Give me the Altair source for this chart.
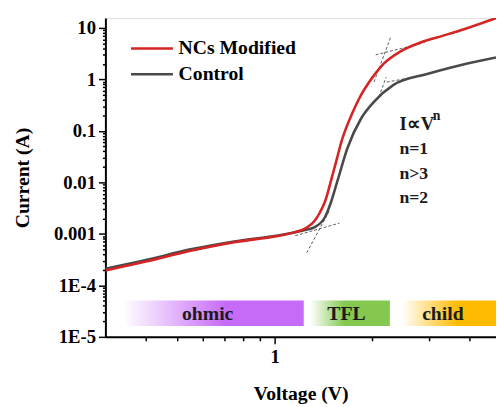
import altair as alt
import pandas as pd

# ---- data ----
series_names = ["NCs Modified", "Control"]
series_colors = ["#d42424", "#4a4a4a"]

volt_mod = [0.30, 0.40, 0.55, 0.75, 1.00, 1.15, 1.25, 1.33, 1.38, 1.43, 1.50, 1.56, 1.61, 1.73, 1.85, 1.95, 2.03, 2.17, 2.45, 2.82, 3.30, 3.72, 4.83]
curr_mod = [1.95e-4, 2.9e-4, 4.7e-4, 6.9e-4, 8.9e-4, 1.07e-3, 1.3e-3, 1.8e-3, 2.6e-3, 4.2e-3, 0.012, 0.03, 0.063, 0.207, 0.50, 0.85, 1.21, 2.0, 3.5, 5.2, 7.0, 8.8, 15.5]

volt_ctl = [0.30, 0.40, 0.55, 0.75, 1.00, 1.15, 1.25, 1.33, 1.43, 1.50, 1.565, 1.68, 1.85, 2.03, 2.33, 2.94, 3.72, 4.83]
curr_ctl = [2.1e-4, 3.1e-4, 5.0e-4, 7.1e-4, 9.1e-4, 1.06e-3, 1.2e-3, 1.35e-3, 2.1e-3, 4.5e-3, 0.0109, 0.047, 0.174, 0.37, 0.78, 1.26, 1.87, 2.67]

# legend entries (placed in data space, top-left of the plot)
legend_line_x1 = [0.36, 0.36]
legend_line_x2 = [0.485, 0.485]
legend_text_x = [0.505, 0.505]
legend_y = [3.97, 1.263]

# tangent (fit) guide segments: id, V, I
fit_id = [1, 1, 2, 2, 3, 3, 4, 4, 5, 5, 6, 6]
fit_v = [1.257, 1.480, 1.158, 1.587, 2.028, 2.279, 2.052, 2.911, 2.10, 2.21, 2.221, 2.877]
fit_i = [4.31e-4, 2.9e-3, 9.2e-4, 1.62e-3, 0.887, 6.44, 3.0, 5.17, 0.459, 1.106, 0.887, 1.19]

# regime bands
band_names = ["ohmic", "TFL", "child"]
band_x1 = [0.34, 1.287, 2.47]
band_x2 = [1.23, 2.27, 4.83]
band_y1 = [1.62e-5, 1.62e-5, 1.62e-5]
band_y2 = [5.06e-5, 5.06e-5, 5.06e-5]
band_colors = ["#c76af7", "#84c850", "#ffbb00"]
band_full_at = [0.57, 0.43, 0.60]
band_label_x = [0.621, 1.667, 3.31]
band_label_y = [2.79e-5, 2.79e-5, 2.79e-5]

# annotation text
note_text = ["I\u221dV", "n", "n=1", "n>3", "n=2"]
note_x = [2.43, 3.08, 2.43, 2.43, 2.43]
note_y = [0.134, 0.19, 0.0445, 0.0148, 0.00492]
note_size = [19, 14, 18, 18, 18]

# axes
x_domain = [0.3, 4.83]
y_domain = [1e-5, 15.5]
x_major = [1]
x_major_labels = ["1"]
x_minor = [0.4, 0.5, 0.6, 0.7, 0.8, 0.9, 2, 3, 4]
y_major = [1e-5, 1e-4, 0.001, 0.01, 0.1, 1, 10]
y_major_labels = ["1E-5", "1E-4", "0.001", "0.01", "0.1", "1", "10"]
y_minor = [m * d for d in y_major for m in range(2, 10) if m * d <= 15.5]

FONT = "Times New Roman, Liberation Serif, serif"

df_curves = pd.concat([
    pd.DataFrame({"V": volt_ctl, "I": curr_ctl, "series": "Control", "o": range(len(volt_ctl))}),
    pd.DataFrame({"V": volt_mod, "I": curr_mod, "series": "NCs Modified", "o": range(len(volt_mod))}),
])
df_legend = pd.DataFrame({"series": series_names, "x1": legend_line_x1, "x2": legend_line_x2,
                          "tx": legend_text_x, "y": legend_y})
df_fit = pd.DataFrame({"id": fit_id, "V": fit_v, "I": fit_i})
df_bands = pd.DataFrame({"name": band_names, "x1": band_x1, "x2": band_x2, "y1": band_y1, "y2": band_y2,
                         "lx": band_label_x, "ly": band_label_y})
df_notes = pd.DataFrame({"t": note_text, "V": note_x, "I": note_y, "s": note_size})


def label_expr(vals, labels):
    e = "''"
    for v, l in zip(vals, labels):
        e = f"datum.value == {v} ? '{l}' : ({e})"
    return e


def major_test(vals):
    return "indexof([" + ",".join(str(v) for v in vals) + "], datum.value) >= 0"


xscale = alt.Scale(type="log", domain=x_domain, nice=False)
yscale = alt.Scale(type="log", domain=y_domain, nice=False)

x_axis = alt.Axis(
    values=x_major + x_minor, labelExpr=label_expr(x_major, x_major_labels),
    title="Voltage (V)", titleFont=FONT, titleFontSize=20, titleFontWeight="bold", titleColor="black",
    titlePadding=18, labelFont=FONT, labelFontSize=19, labelFontWeight="bold", labelColor="black",
    labelPadding=4, domainColor="black", domainWidth=2, tickColor="black", tickWidth=1.5,
    tickSize={"condition": {"test": major_test(x_major), "value": 7}, "value": 4},
    grid=False, labelFlush=False, labelOverlap=False,
)
y_axis = alt.Axis(
    values=y_major + y_minor, labelExpr=label_expr(y_major, y_major_labels),
    title="Current (A)", titleFont=FONT, titleFontSize=20, titleFontWeight="bold", titleColor="black",
    titlePadding=21, labelFont=FONT, labelFontSize=19, labelFontWeight="bold", labelColor="black",
    labelPadding=3, domainColor="black", domainWidth=2, tickColor="black", tickWidth=1.5,
    tickSize={"condition": {"test": major_test(y_major), "value": 7}, "value": 3},
    grid=False, labelFlush=False, labelOverlap=False,
)

color_scale = alt.Scale(domain=series_names, range=series_colors)

layers = []
for i, name in enumerate(band_names):
    grad = alt.Gradient(
        gradient="linear", x1=0, x2=1, y1=0, y2=0,
        stops=[alt.GradientStop(color="white", offset=0),
               alt.GradientStop(color=band_colors[i], offset=band_full_at[i]),
               alt.GradientStop(color=band_colors[i], offset=1)],
    )
    layers.append(
        alt.Chart(df_bands[df_bands.name == name]).mark_rect(color=grad, clip=True).encode(
            x=alt.X("x1:Q", scale=xscale, axis=x_axis), x2="x2:Q",
            y=alt.Y("y1:Q", scale=yscale, axis=y_axis), y2="y2:Q",
        )
    )

band_text = alt.Chart(df_bands).mark_text(font=FONT, fontSize=20, fontWeight="bold", color="#1a1a1a").encode(
    x=alt.X("lx:Q", scale=xscale), y=alt.Y("ly:Q", scale=yscale), text="name:N")

fit = alt.Chart(df_fit).mark_line(strokeDash=[3, 2], strokeWidth=0.8, color="#333333", clip=True).encode(
    x=alt.X("V:Q", scale=xscale), y=alt.Y("I:Q", scale=yscale), detail="id:N")

color = alt.Color("series:N", scale=color_scale, legend=None)

ctl = alt.Chart(df_curves[df_curves.series == "Control"]).mark_line(strokeWidth=2.6, interpolate="monotone", clip=True).encode(
    x=alt.X("V:Q", scale=xscale), y=alt.Y("I:Q", scale=yscale), color=color, order="o:Q")
mod = alt.Chart(df_curves[df_curves.series == "NCs Modified"]).mark_line(strokeWidth=2.6, interpolate="monotone", clip=True).encode(
    x=alt.X("V:Q", scale=xscale), y=alt.Y("I:Q", scale=yscale), color=color, order="o:Q")

legend_lines = alt.Chart(df_legend).mark_rule(strokeWidth=2.6).encode(
    x=alt.X("x1:Q", scale=xscale), x2="x2:Q", y=alt.Y("y:Q", scale=yscale), color=color)
legend_text = alt.Chart(df_legend).mark_text(font=FONT, fontSize=20, fontWeight="bold", align="left",
                                             baseline="middle", color="black").encode(
    x=alt.X("tx:Q", scale=xscale), y=alt.Y("y:Q", scale=yscale), text="series:N")

notes = alt.Chart(df_notes).mark_text(font=FONT, fontWeight="bold", align="left", baseline="middle", color="#1a1a1a").encode(
    x=alt.X("V:Q", scale=xscale), y=alt.Y("I:Q", scale=yscale), text="t:N",
    size=alt.Size("s:Q", scale=None, legend=None))

chart = alt.layer(*layers, band_text, fit, ctl, mod, legend_lines, legend_text, notes).properties(
    width=397, height=324,
    autosize=alt.AutoSizeParams(type="none"),
    padding={"left": 99, "top": 7, "right": 0, "bottom": 66},
).configure_view(stroke="black", strokeWidth=2).configure(background="white")

chart.save("out.html", embed_options={"renderer": "svg", "actions": False})
